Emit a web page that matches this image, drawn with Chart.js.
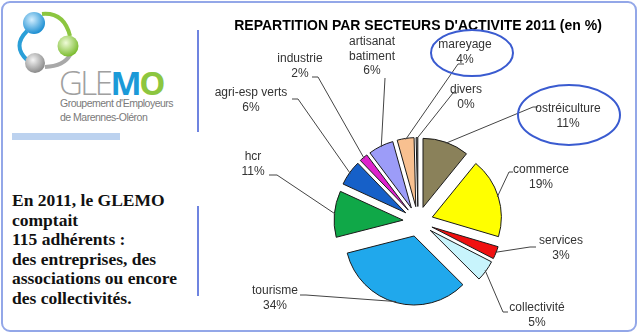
<!DOCTYPE html>
<html>
<head>
<meta charset="utf-8">
<script src="https://cdn.jsdelivr.net/npm/chart.js@4"></script>
<style>
  body { margin: 0; width: 640px; height: 335px; overflow: hidden; background: #fff; position: relative; }
  .frame { position: absolute; left: 1px; top: 1px; width: 636px; height: 331px; box-sizing: border-box;
           border: 2px solid #93a7e8; border-radius: 9px; }
  .vline { position: absolute; left: 197px; width: 2px; background: #6f84e0; }
  .bar { position: absolute; left: 12px; top: 133px; width: 108px; height: 7px; background: #bcd2ef; }
  .glemo { position: absolute; left: 59px; top: 64px; font-family: "Open Sans", "Liberation Sans", sans-serif;
           font-size: 33px; line-height: 38px; letter-spacing: -2.5px; white-space: nowrap; }
  .glemo .g { color: #a0a0a0; font-weight: 300; }
  .glemo .m { color: #1b9ad8; font-weight: 700; }
  .glemo .o { color: #8cc63f; font-weight: 700; }
  .sub { position: absolute; left: 60px; font-family: "Liberation Sans", sans-serif; font-size: 10.5px;
         color: #7a7a7a; white-space: nowrap; letter-spacing: -0.5px; }
  .blurb { position: absolute; left: 12px; top: 191px; font-family: "Liberation Serif", serif; font-weight: 700;
           font-size: 17.5px; line-height: 19.6px; color: #111; }
  canvas { position: absolute; left: 0; top: 0; }
</style>
</head>
<body>
<div class="frame"></div>
<div class="vline" style="top:30px;height:102px"></div>
<div class="vline" style="top:206px;height:90px"></div>
<div class="bar"></div>

<svg style="position:absolute;left:0;top:0" width="100" height="80">
  <defs>
    <radialGradient id="gb" cx="40%" cy="35%" r="65%"><stop offset="0" stop-color="#d4efff"/><stop offset="1" stop-color="#1d8fd2"/></radialGradient>
    <radialGradient id="gg" cx="40%" cy="35%" r="65%"><stop offset="0" stop-color="#effbd8"/><stop offset="1" stop-color="#7cbc30"/></radialGradient>
    <radialGradient id="gy" cx="40%" cy="35%" r="65%"><stop offset="0" stop-color="#f4f4f4"/><stop offset="1" stop-color="#8a8a8a"/></radialGradient>
  </defs>
  <path d="M27 31 Q12 46 27 60" fill="none" stroke="#2a9fd8" stroke-width="4"/>
  <path d="M42 14 Q64 12 70 36" fill="none" stroke="#8cc63f" stroke-width="4"/>
  <path d="M45 67 Q64 66 70 55" fill="none" stroke="#a8a8a8" stroke-width="4"/>
  <circle cx="34" cy="23" r="11" fill="url(#gb)"/>
  <circle cx="68" cy="46" r="10.5" fill="url(#gg)"/>
  <circle cx="35" cy="63" r="10" fill="url(#gy)"/>
</svg>
<div class="glemo"><span class="g">GLE</span><span class="m">M</span><span class="o">O</span></div>
<div class="sub" style="top:97px">Groupement d'Employeurs</div>
<div class="sub" style="top:111px">de Marennes-Oléron</div>

<div class="blurb">En 2011, le GLEMO<br>comptait<br>115 adhérents :<br>des entreprises, des<br>associations ou encore<br>des collectivités.</div>

<canvas id="pie" width="640" height="335"></canvas>

<script>
const TITLE = "REPARTITION PAR SECTEURS D'ACTIVITE 2011 (en %)";

// slices clockwise from 12 o'clock
const sectors = ["ostréiculture", "commerce", "services", "collectivité", "tourisme", "hcr",
                 "agri-esp verts", "industrie", "artisanat batiment", "mareyage", "divers"];
const shares  = [11, 19, 3, 5, 34, 11, 6, 2, 6, 4, 0.4];
const colors  = ["#8a815a", "#ffff00", "#f01010", "#c8f4fc", "#20a8ec", "#10a848",
                 "#1660c8", "#dd22cc", "#9c9cf8", "#f8c090", "#8a8a8a"];

// label placement (page px): text centre, leader start, stub, optional ring
const labelLayout = [
    { x: 568, y: 109, lx: 538, ly: 107, stub: -5, ring: { cx: 569, cy: 115, rx: 51, ry: 30 } },
    { x: 541, y: 170, lx: 513, ly: 172, stub: -4 },
    { x: 561, y: 241, lx: 536, ly: 247, stub: -6 },
    { x: 537, y: 308, lx: 508, ly: 312, stub: -5 },
    { x: 275, y: 291, lx: 300, ly: 295, stub: 6 },
    { x: 253, y: 157, lx: 269, ly: 175, stub: 8 },
    { x: 251, y: 93,  lx: 292, ly: 99,  stub: 6 },
    { x: 300, y: 59,  lx: 312, ly: 77,  stub: 6 },
    { x: 372, y: 42,  lx: 385, ly: 78,  stub: 0, wrap: true },
    { x: 465, y: 45,  lx: 464, ly: 64,  stub: -6, ring: { cx: 472, cy: 53, rx: 41, ry: 23 } },
    { x: 466, y: 90,  lx: 457, ly: 93,  stub: -4 },
];

const EXPLODE = 15;

const explodePlugin = {
    id: "explode",
    afterDatasetsUpdate(chart) {
        chart.getDatasetMeta(0).data.forEach(arc => {
            const mid = (arc.startAngle + arc.endAngle) / 2;
            arc.x += Math.cos(mid) * EXPLODE;
            arc.y += Math.sin(mid) * EXPLODE;
        });
    }
};

const labelPlugin = {
    id: "sliceLabels",
    afterDatasetsDraw(chart) {
        const ctx = chart.ctx;
        const arcs = chart.getDatasetMeta(0).data;
        ctx.save();
        arcs.forEach((arc, i) => {
            const L = labelLayout[i];
            const mid = (arc.startAngle + arc.endAngle) / 2;
            const ex = arc.x + Math.cos(mid) * (arc.outerRadius - 1);
            const ey = arc.y + Math.sin(mid) * (arc.outerRadius - 1);

            ctx.strokeStyle = "#444";
            ctx.lineWidth = 1;
            ctx.beginPath();
            ctx.moveTo(L.lx, L.ly);
            ctx.lineTo(L.lx + L.stub, L.ly);
            ctx.lineTo(ex, ey);
            ctx.stroke();

            const lines = L.wrap ? sectors[i].split(" ") : [sectors[i]];
            lines.push(Math.round(shares[i]) + "%");
            ctx.fillStyle = "#333";
            ctx.font = "12px 'Liberation Sans', Arial, sans-serif";
            ctx.textAlign = "center";
            ctx.textBaseline = "middle";
            lines.forEach((t, k) => ctx.fillText(t, L.x, L.y + k * 14.5));

            if (L.ring) {
                ctx.strokeStyle = "#3a5bd0";
                ctx.lineWidth = 2;
                ctx.beginPath();
                ctx.ellipse(L.ring.cx, L.ring.cy, L.ring.rx, L.ring.ry, 0, 0, Math.PI * 2);
                ctx.stroke();
            }
        });
        ctx.restore();
    }
};

new Chart(document.getElementById("pie"), {
    type: "pie",
    data: {
        labels: sectors,
        datasets: [{
            data: shares,
            backgroundColor: colors,
            borderColor: "#1a1a1a",
            borderWidth: 1,
        }]
    },
    options: {
        responsive: false,
        animation: false,
        events: [],
        radius: 69,
        layout: { padding: { left: 200, right: 4, top: 0, bottom: 0 } },
        plugins: {
            legend: { display: false },
            tooltip: { enabled: false },
            title: {
                display: true,
                text: TITLE,
                color: "#000",
                font: { family: "'Liberation Sans', Arial, sans-serif", size: 14, weight: "bold" },
                padding: { top: 18, bottom: 73.2 }
            }
        }
    },
    plugins: [explodePlugin, labelPlugin]
});
</script>
</body>
</html>
